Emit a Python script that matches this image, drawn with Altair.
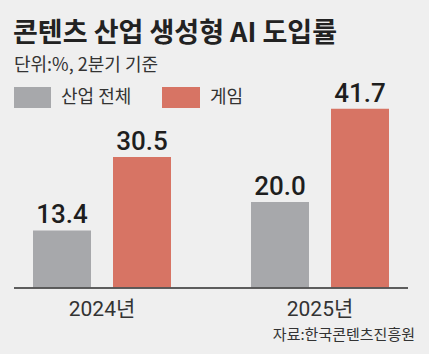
import altair as alt
import pandas as pd

years = ["2024년", "2025년"]
series = ["산업 전체", "게임"]
industry = [13.4, 20.0]
game = [30.5, 41.7]

title_text = "콘텐츠 산업 생성형 AI 도입률"
subtitle_text = "단위:%, 2분기 기준"
source_text = "자료:한국콘텐츠진흥원"

GRAY = "#a7a8ab"
RED = "#d77464"
BG = "#efefef"
KR = "Noto Sans CJK KR"
NUM = "Roboto, Noto Sans CJK KR"

rows = []
for i, y in enumerate(years):
    rows.append({"year": y, "series": series[0], "value": industry[i]})
    rows.append({"year": y, "series": series[1], "value": game[i]})
df = pd.DataFrame(rows)
df["label"] = df["value"].map(lambda v: f"{v:.1f}")

BW = 58
OFF = 40

xenc = alt.X("year:N", sort=years, axis=None,
             scale=alt.Scale(range=[-7, 429], paddingInner=0, paddingOuter=0))
yenc = alt.Y("value:Q", axis=None, scale=alt.Scale(domain=[0, 67]))
cenc = alt.Color("series:N", sort=series, legend=None,
                 scale=alt.Scale(domain=series, range=[GRAY, RED]))

base = alt.Chart(df)
ind = base.transform_filter(alt.datum.series == series[0])
gam = base.transform_filter(alt.datum.series == series[1])

bars_i = ind.mark_bar(width=BW, xOffset=-OFF).encode(x=xenc, y=yenc, color=cenc)
bars_g = gam.mark_bar(width=BW, xOffset=OFF).encode(x=xenc, y=yenc, color=cenc)

vstyle = dict(dy=-7, baseline="alphabetic", fontSize=26, font=NUM,
              fontWeight=500, color="#1e1e1e")
vals_i = ind.mark_text(xOffset=-OFF, **vstyle).encode(x=xenc, y=yenc, text="label:N")
vals_g = gam.mark_text(xOffset=OFF, **vstyle).encode(x=xenc, y=yenc, text="label:N")

xlabels = ind.mark_text(baseline="alphabetic", fontSize=21, font=NUM,
                        color="#333333").encode(x=xenc, y=alt.value(316), text="year:N")

rule = base.mark_rule(color="#555555", strokeWidth=1).encode(
    x=alt.value(14), x2=alt.value(408), y=alt.value(288))

# legend (swatch + label for each series)
leg_i_sw = ind.mark_rect().encode(x=alt.value(14), x2=alt.value(51),
                                  y=alt.value(87), y2=alt.value(108), color=cenc)
leg_g_sw = gam.mark_rect().encode(x=alt.value(162), x2=alt.value(200),
                                  y=alt.value(87), y2=alt.value(108), color=cenc)
leg_i_tx = alt.Chart(pd.DataFrame({"t": [series[0]]})).mark_text(
    align="left", baseline="middle", fontSize=18, font=KR, color="#333333").encode(
    x=alt.value(61), y=alt.value(97.5), text="t:N")
leg_g_tx = alt.Chart(pd.DataFrame({"t": [series[1]]})).mark_text(
    align="left", baseline="middle", fontSize=18, font=KR, color="#333333").encode(
    x=alt.value(210), y=alt.value(97.5), text="t:N")

title = alt.Chart(pd.DataFrame({"t": [title_text]})).mark_text(
    align="left", baseline="alphabetic", fontSize=27, font=KR,
    fontWeight="bold", color="#222222").encode(
    x=alt.value(13), y=alt.value(42), text="t:N")

subtitle = alt.Chart(pd.DataFrame({"t": [subtitle_text]})).mark_text(
    align="left", baseline="alphabetic", fontSize=18, font=KR,
    color="#333333").encode(x=alt.value(14), y=alt.value(71), text="t:N")

source = alt.Chart(pd.DataFrame({"t": [source_text]})).mark_text(
    align="right", baseline="alphabetic", fontSize=15, font=KR,
    color="#333333").encode(x=alt.value(415), y=alt.value(340), text="t:N")

chart = alt.layer(bars_i, bars_g, rule, vals_i, vals_g, xlabels,
                  leg_i_sw, leg_g_sw, leg_i_tx, leg_g_tx,
                  title, subtitle, source).properties(
    width=429, height=288,
    padding={"left": 0, "top": 0, "right": 0, "bottom": 66},
    autosize=alt.AutoSizeParams(type="none"),
    background=BG,
).configure_view(strokeWidth=0)

chart.save("out.html", embed_options={"renderer": "svg", "actions": False})
